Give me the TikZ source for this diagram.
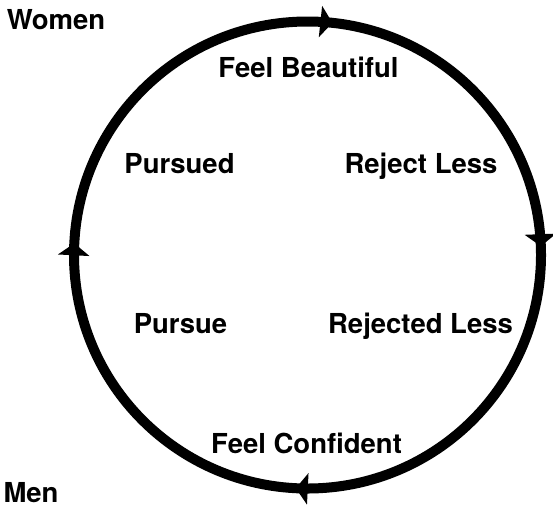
\documentclass[tikz,border=0pt]{standalone}
\usepackage{fontspec}
\setmainfont{TeX Gyre Heros}
\usetikzlibrary{arrows.meta,decorations.markings}

\tikzset{
	lbl/.style={anchor=base, font=\fontsize{27.5}{33}\selectfont\bfseries, inner sep=0pt},
	cyclemark/.style={postaction={decorate, decoration={markings,
		mark=at position #1 with {\arrow{Triangle[width=31pt,length=12pt]}}}}}
}

\begin{document}
\begin{tikzpicture}[x=1pt, y=-1pt]
		\useasboundingbox (0,0) rectangle (553,509);
		
		% Cycle
		\draw[line width=10pt, cyclemark=0.258, cyclemark=0.508, cyclemark=0.767, cyclemark=0.994]
			(307.5,255) circle (233.5);
		
		% Corner labels
		\node[lbl] (women) at (56,29) {Women};
		\node[lbl] (men) at (31,502) {Men};
		
		% Labels inside
		\node[lbl] (beautiful) at (308.5,77) {Feel Beautiful};
		\node[lbl] (pursued) at (179.5,173) {Pursued};
		\node[lbl] (rejectless) at (421,173) {Reject Less};
		\node[lbl] (pursue) at (180.5,333) {Pursue};
		\node[lbl] (rejectedless) at (420.5,333) {Rejected Less};
		\node[lbl] (confident) at (306.5,453) {Feel Confident};
	\end{tikzpicture}
\end{document}
